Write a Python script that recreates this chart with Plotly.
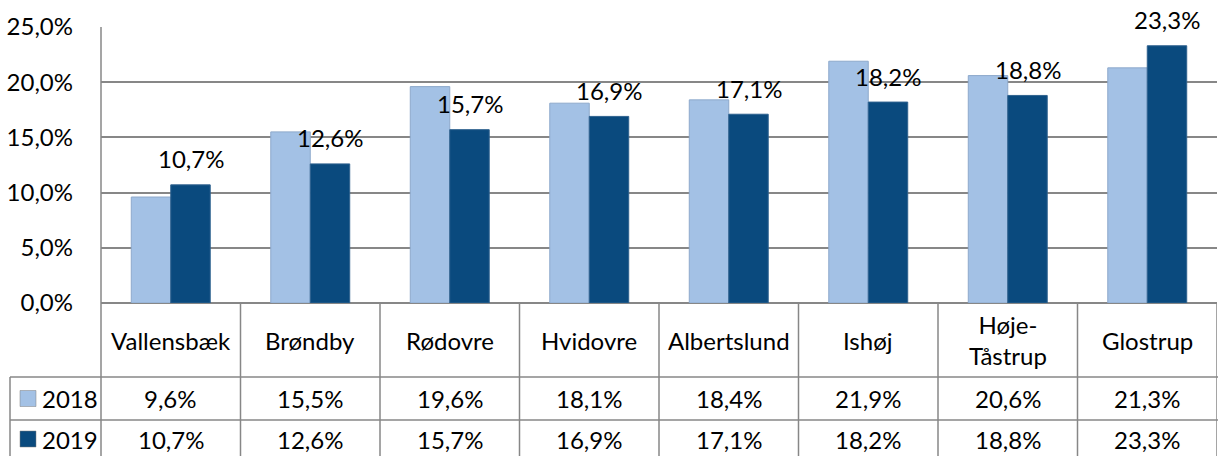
import plotly.graph_objects as go

categories = ["Vallensbæk", "Brøndby", "Rødovre", "Hvidovre", "Albertslund", "Ishøj", "Høje-Tåstrup", "Glostrup"]
category_labels = ["Vallensbæk", "Brøndby", "Rødovre", "Hvidovre", "Albertslund", "Ishøj", "Høje-<br>Tåstrup", "Glostrup"]
series_names = ["2018", "2019"]
values_2018 = [0.096, 0.155, 0.196, 0.181, 0.184, 0.219, 0.206, 0.213]
values_2019 = [0.107, 0.126, 0.157, 0.169, 0.171, 0.182, 0.188, 0.233]
y_ticks = [0, 0.05, 0.10, 0.15, 0.20, 0.25]

LIGHT = "#A3C1E5"
DARK = "#0A4A7E"
GRID = "#878787"
FONT = "Lato"
FS = 24

def pct(v):
    return f"{v*100:.1f}%".replace(".", ",")

fig = go.Figure()
fig.add_trace(go.Bar(x=categories, y=values_2018, name=series_names[0],
                     marker=dict(color=LIGHT, line=dict(color="#8DA9CB", width=1))))
fig.add_trace(go.Bar(x=categories, y=values_2019, name=series_names[1],
                     marker=dict(color=DARK, line=dict(color="#2F628F", width=1))))

W, H = 1218, 456
ml, mr, mt, mb = 101, 1, 27, 153
ph = H - mt - mb
pw = W - ml - mr

def py(p):
    return (H - mb - p) / ph

def px(p):
    return (p - ml) / pw

annotations = []
# data labels for 2019
for c, v in zip(categories, values_2019):
    annotations.append(dict(x=c, y=v, xref="x", yref="y", text=pct(v), showarrow=False,
                            xshift=20, yshift=26, yanchor="middle",
                            font=dict(family=FONT, size=FS, color="#000000")))
# table category row
for c, lab in zip(categories, category_labels):
    annotations.append(dict(x=c, y=py(340), xref="x", yref="paper", text=lab, showarrow=False,
                            yanchor="middle", font=dict(family=FONT, size=FS, color="#000000")))
# table value rows
for vals, yp in ((values_2018, 398.5), (values_2019, 439)):
    for c, v in zip(categories, vals):
        annotations.append(dict(x=c, y=py(yp), xref="x", yref="paper", text=pct(v), showarrow=False,
                                yanchor="middle", font=dict(family=FONT, size=FS, color="#000000")))
# legend keys text
for name, yp in zip(series_names, (398.5, 439)):
    annotations.append(dict(x=px(40), y=py(yp), xref="paper", yref="paper", text=name, showarrow=False,
                            xanchor="left", yanchor="middle", font=dict(family=FONT, size=FS, color="#000000")))

line_style = dict(color=GRID, width=1.5)
shapes = []
bottom = py(470)
# y axis line through table
shapes.append(dict(type="line", xref="paper", yref="paper", x0=0, x1=0, y0=1, y1=bottom, line=line_style))
# category separators
for i in range(1, len(categories) + 1):
    shapes.append(dict(type="line", xref="x", yref="paper", x0=i - 0.5, x1=i - 0.5, y0=0, y1=bottom, line=line_style))
# horizontal table lines
for yp in (377, 420):
    shapes.append(dict(type="line", xref="paper", yref="paper", x0=px(10), x1=1.01, y0=py(yp), y1=py(yp), line=line_style))
# left border of legend column
shapes.append(dict(type="line", xref="paper", yref="paper", x0=px(10), x1=px(10), y0=py(377), y1=bottom, line=line_style))
# legend key squares
for col, yp in ((LIGHT, 398.5), (DARK, 439)):
    shapes.append(dict(type="rect", xref="paper", yref="paper", x0=px(20), x1=px(36),
                       y0=py(yp + 8), y1=py(yp - 8), fillcolor=col, line=dict(color="#7F7F7F", width=0.5)))

fig.update_layout(
    width=W, height=H,
    margin=dict(l=ml, r=mr, t=mt, b=mb, autoexpand=False),
    paper_bgcolor="white", plot_bgcolor="white",
    separators=", ",
    barmode="group", bargap=0.434, bargroupgap=0,
    showlegend=False,
    font=dict(family=FONT, size=FS, color="#000000"),
    xaxis=dict(showticklabels=False, showgrid=False, zeroline=False, showline=False,
               range=[-0.5, len(categories) - 0.5], fixedrange=True),
    yaxis=dict(range=[0, 0.25], tickvals=y_ticks, tickformat=".1%", showgrid=True,
               gridcolor=GRID, gridwidth=1.5, zeroline=True, zerolinecolor=GRID, zerolinewidth=1.5,
               showline=False, ticklabelstandoff=27, tickfont=dict(family=FONT, size=FS, color="#000000")),
    annotations=annotations,
    shapes=shapes,
)

fig.write_html("out.html", config={"displayModeBar": False},
               post_script="document.body.style.margin='0px';document.body.style.overflow='hidden';")
